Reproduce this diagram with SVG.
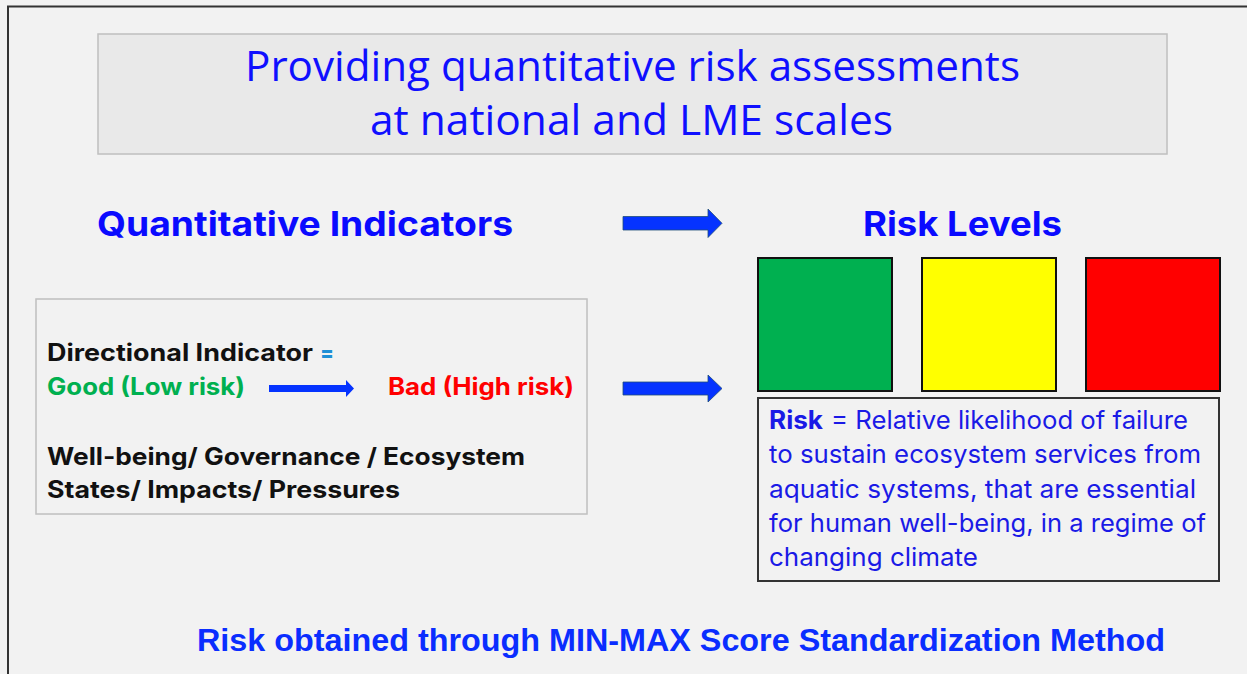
<svg xmlns="http://www.w3.org/2000/svg" width="1247" height="674" viewBox="0 0 1247 674">
<style>
.title{font-family:"Open Sans","Liberation Sans",sans-serif;font-size:42px;fill:#0f0fff;text-anchor:start}
.head{font-family:Inter,"Liberation Sans",sans-serif;font-weight:700;font-size:34px;fill:#0a0aff}
.lt{font-family:Inter,"Liberation Sans",sans-serif;font-weight:700;font-size:24px}
.rt{font-family:Inter,"Liberation Sans",sans-serif;font-size:25px;fill:#1a1ae6}
.bt{font-family:"Liberation Sans",Arial,sans-serif;font-weight:700;font-size:31px;fill:#0a2dff}
.arrow{fill:#0533ff;stroke:#1f4e79;stroke-width:0.8}
.sq{stroke:#111;stroke-width:2}
</style>
<rect x="0" y="0" width="1247" height="674" fill="#f2f2f2"/>
<path d="M8 674 V6.5 H1247" fill="none" stroke="#333" stroke-width="2"/>

<g id="title">
<rect x="98" y="34" width="1069" height="120" fill="#e9e9e9" stroke="#bfbfbf" stroke-width="1.5"/>
<text class="title" x="245" y="81" textLength="775" lengthAdjust="spacingAndGlyphs">Providing quantitative risk assessments</text>
<text class="title" x="370" y="135" textLength="523" lengthAdjust="spacingAndGlyphs">at national and LME scales</text>
</g>

<g id="quantitative-indicators">
<text class="head" x="97" y="236" textLength="416" lengthAdjust="spacingAndGlyphs">Quantitative Indicators</text>
</g>

<g id="risk-levels">
<text class="head" x="863" y="236" textLength="199" lengthAdjust="spacingAndGlyphs">Risk Levels</text>
<rect class="sq" x="758" y="258" width="134" height="133" fill="#00b050"/>
<rect class="sq" x="922" y="258" width="134" height="133" fill="#ffff00"/>
<rect class="sq" x="1086" y="258" width="134" height="133" fill="#ff0000"/>
</g>

<g id="indicator-box">
<rect x="36" y="299" width="551" height="215" fill="#f2f2f2" stroke="#bfbfbf" stroke-width="1.5"/>
<text class="lt" x="47" y="361" fill="#111" textLength="266" lengthAdjust="spacingAndGlyphs">Directional Indicator</text>
<text class="lt" x="320" y="361" fill="#1f8fd6" textLength="14" lengthAdjust="spacingAndGlyphs">=</text>
<text class="lt" x="47" y="395" fill="#00b050" textLength="198" lengthAdjust="spacingAndGlyphs">Good (Low risk)</text>
<path d="M269 385 H346 V380 L354 388.5 L346 397 V392 H269 Z" fill="#0533ff"/>
<text class="lt" x="388" y="395" fill="#ff0000" textLength="186" lengthAdjust="spacingAndGlyphs">Bad (High risk)</text>
<text class="lt" x="47" y="465" fill="#111" textLength="478" lengthAdjust="spacingAndGlyphs">Well-being/ Governance / Ecosystem</text>
<text class="lt" x="47" y="498" fill="#111" textLength="353" lengthAdjust="spacingAndGlyphs">States/ Impacts/ Pressures</text>
</g>

<g id="risk-definition">
<rect x="758" y="398" width="461" height="183" fill="none" stroke="#333" stroke-width="2"/>
<text class="rt" x="769" y="429" font-weight="700" textLength="54" lengthAdjust="spacingAndGlyphs">Risk</text>
<text class="rt" x="831" y="429" textLength="357" lengthAdjust="spacingAndGlyphs">= Relative likelihood of failure</text>
<text class="rt" x="769" y="463" textLength="432" lengthAdjust="spacingAndGlyphs">to sustain ecosystem services from</text>
<text class="rt" x="769" y="497.5" textLength="427" lengthAdjust="spacingAndGlyphs">aquatic systems, that are essential</text>
<text class="rt" x="769" y="531.5" textLength="437" lengthAdjust="spacingAndGlyphs">for human well-being, in a regime of</text>
<text class="rt" x="769" y="565.5" textLength="209" lengthAdjust="spacingAndGlyphs">changing climate</text>
</g>

<g id="connectors">
<path class="arrow" d="M623 216.5 H708 V209 L722 223.3 L708 237.5 V230 H623 Z"/>
<path class="arrow" d="M623 382 H708 V375 L722 388.5 L708 402 V395 H623 Z"/>
</g>

<g id="method-note">
<text class="bt" x="197" y="651" textLength="968" lengthAdjust="spacingAndGlyphs">Risk obtained through MIN-MAX Score Standardization Method</text>
</g>
</svg>
